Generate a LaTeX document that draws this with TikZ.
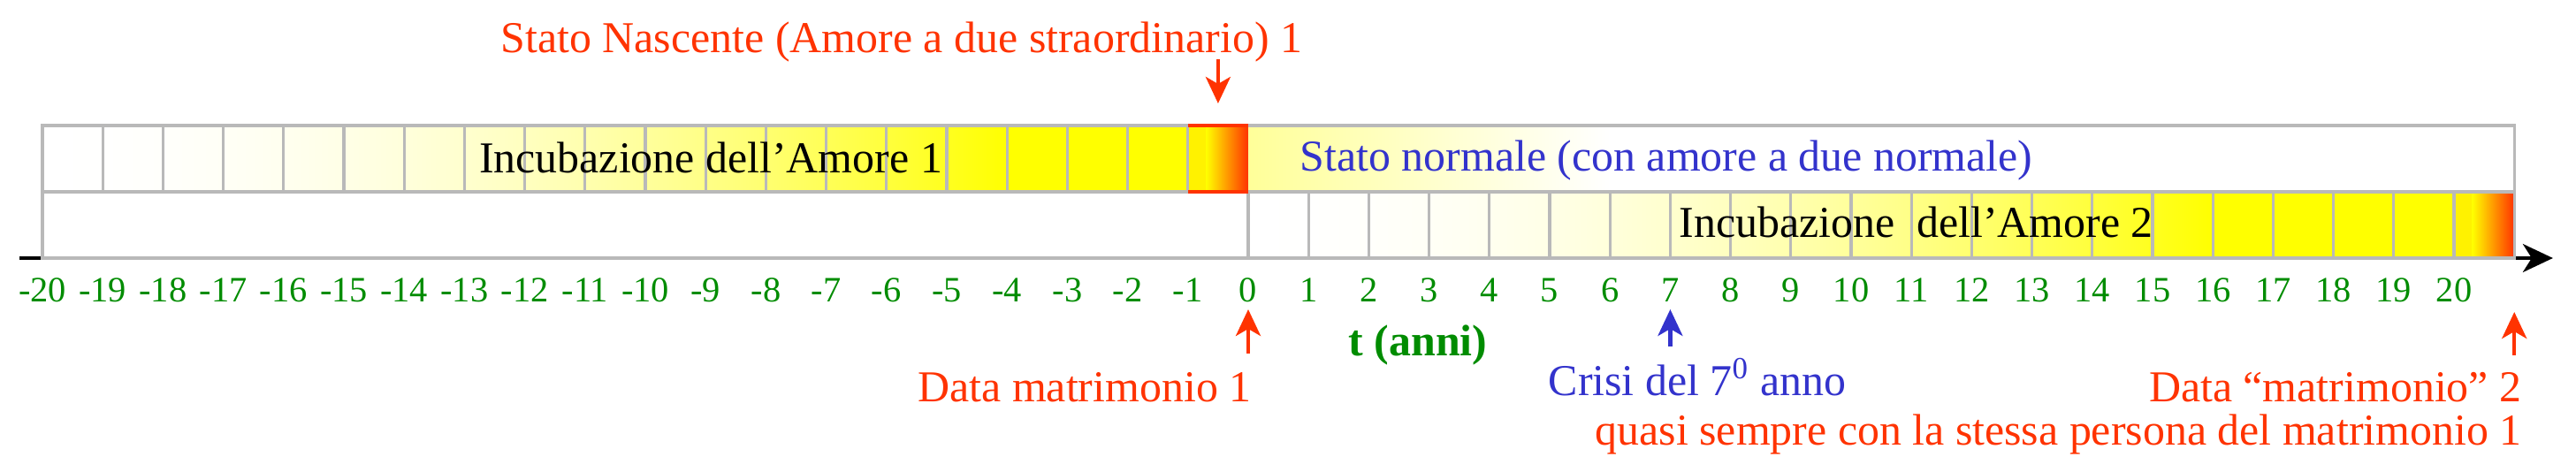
\documentclass[tikz,border=0pt]{standalone}
\usepackage{fontspec}
\setmainfont{Liberation Serif}
\usetikzlibrary{arrows.meta, positioning}

\definecolor{fiamma}{RGB}{255,51,0}
\definecolor{blunotte}{RGB}{51,51,204}
\definecolor{verde}{RGB}{0,140,0}
\definecolor{griglia}{RGB}{185,185,185}

\begin{document}
\begin{tikzpicture}[
  x=0.682cm, y=1cm,
  font=\fontsize{14.2}{17}\selectfont,
  grid/.style={draw=griglia, line width=0.9pt},
  tick/.style={text=verde, font=\fontsize{11.5}{13}\selectfont, anchor=base, inner sep=0pt},
  lbl/.style={anchor=base, inner sep=0pt},
  rosso/.style={lbl, text=fiamma},
  blu/.style={lbl, text=blunotte},
  punta/.style={-{Stealth[length=3mm, width=2.8mm, inset=0.8mm]}, line width=1.2pt},
  asse/.style={-{Stealth[length=3.4mm, width=3.2mm, inset=1mm]}, line width=1pt},
  fuoco/.style={left color=yellow, middle color=orange, right color=fiamma},
]

\useasboundingbox (-20.704,-2.42) rectangle (22.023,2.92);

% ============ AXIS ============
\coordinate (ax0) at (-20.38,0);
\coordinate (ax1) at (21.64,0);
\draw[asse] (ax0) -- (ax1);

% ============ BARS ============
\fill[white] (-20,-0.04) rectangle (21,1.5);

% top row: incubazione 1 (white -> yellow)
\foreach \k [evaluate=\k as \pa using {min(100,0.39*\k*\k)},
             evaluate=\k as \pb using {min(100,0.39*(\k+1)*(\k+1))}] in {0,...,18}
  \fill[left color=yellow!\pa!white, right color=yellow!\pb!white]
    (\k-20,0.75) rectangle (\k-19,1.5);

% stato nascente cell
\fill[yellow] (-1,0.75) rectangle (-0.7,1.5);
\fill[fuoco] (-0.7,0.75) rectangle (0,1.5);

% stato normale
\fill[left color=yellow!40!white, right color=white] (0,0.75) rectangle (6,1.5);

% bottom row: incubazione 2
\foreach \k [evaluate=\k as \pa using {min(100,0.39*\k*\k)},
             evaluate=\k as \pb using {min(100,0.39*(\k+1)*(\k+1))}] in {0,...,19}
  \fill[left color=yellow!\pa!white, right color=yellow!\pb!white]
    (\k,0) rectangle (\k+1,0.75);
\fill[yellow] (20,0) rectangle (20.3,0.75);
\fill[fuoco] (20.3,0) rectangle (21,0.75);

% grid
\draw[grid] (-20,0) rectangle (21,1.5);
\draw[grid] (-20,0.75) -- (21,0.75);
\foreach \n in {-19,...,-1}
  \draw[grid] (\n,0.75) -- (\n,1.5);
\foreach \n in {0,...,20}
  \draw[grid] (\n,0) -- (\n,0.75);
\draw[fiamma, line width=0.9pt] (-1,1.5) -- (0,1.5) (-1,0.75) -- (0,0.75);

% ============ LABELS ============
\foreach \n in {-20,...,20}
  \node[tick] (y\n) at (\n,-0.5) {\n};

\node[rosso] (nascente) at (-5.75,2.32) {Stato Nascente (Amore a due straordinario) 1};
\node[lbl] (incub1) at (-8.915,0.97) {Incubazione dell'Amore 1};
\node[blu] (normale) at (6.935,0.99) {Stato normale (con amore a due normale)};
\node[lbl] (incub2) at (11.08,0.24) {Incubazione\ \ dell'Amore 2};
\node[lbl, text=verde, font=\fontsize{14.2}{17}\selectfont\bfseries] (anni) at (2.815,-1.10) {t (anni)};
\node[rosso, anchor=base east] (matr1) at (0.06,-1.63) {Data matrimonio 1};
\node[blu] (crisi) at (7.45,-1.55) {Crisi del 7\textsuperscript{0} anno};
\node[rosso, anchor=base east] (matr2) at (21.13,-1.63) {Data “matrimonio” 2};
\node[rosso, anchor=base east] (persona) at (21.13,-2.11) {quasi sempre con la stessa persona del matrimonio 1};

% ============ ARROWS ============
\coordinate (nasc-a) at (-0.5,2.25);
\coordinate (nasc-b) at (-0.5,1.75);
\coordinate (matr1-a) at (0,-1.08);
\coordinate (matr1-b) at (0,-0.58);
\coordinate (crisi-a) at (7,-1.00);
\coordinate (crisi-b) at (7,-0.58);
\coordinate (matr2-a) at (21,-1.10);
\coordinate (matr2-b) at (21,-0.61);

\draw[punta, fiamma] (nasc-a) -- (nasc-b);
\draw[punta, fiamma] (matr1-a) -- (matr1-b);
\draw[punta, blunotte] (crisi-a) -- (crisi-b);
\draw[punta, fiamma] (matr2-a) -- (matr2-b);

\end{tikzpicture}
\end{document}
